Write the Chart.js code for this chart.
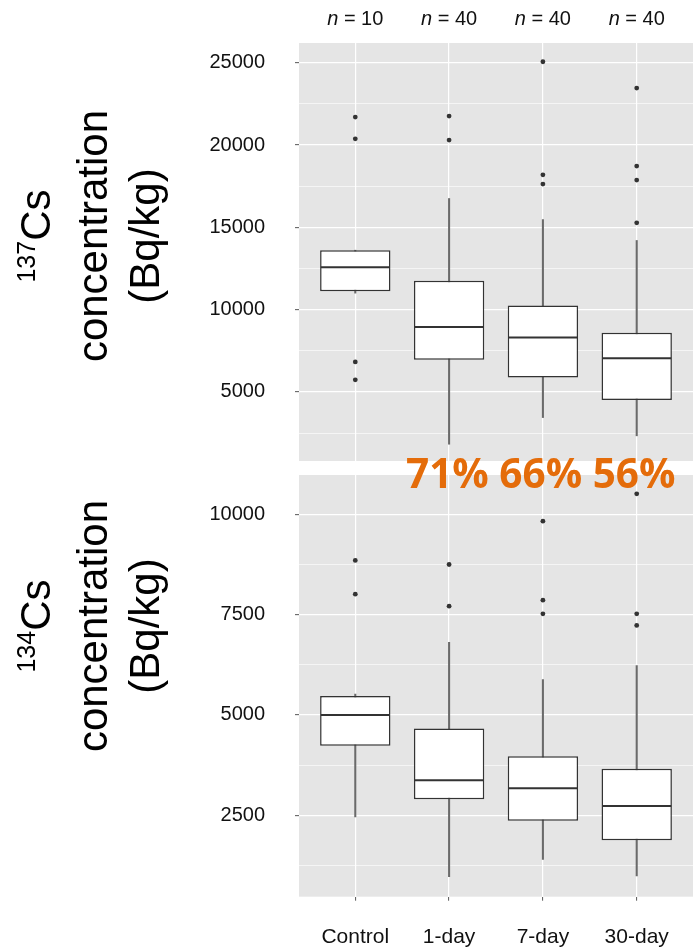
<!DOCTYPE html>
<html>
<head>
<meta charset="utf-8">
<script src="https://cdn.jsdelivr.net/npm/chart.js@4"></script>
<style>
  html, body { margin: 0; padding: 0; background: #fff; }
  #wrap { position: relative; width: 693px; height: 948px; overflow: hidden;
          font-family: "Liberation Sans", Arial, sans-serif; }
  canvas { position: absolute; left: 0; }
  #c137 { top: 0; }
  #c134 { top: 470px; }
  .ytitle { position: absolute; width: 320px; height: 156px; left: -72.2px;
            transform: rotate(-90deg); text-align: center; font-size: 42px;
            line-height: 52px; color: #000; white-space: nowrap; }
  .ytitle .iso { font-size: 25px; position: relative; top: -15px; }
  #t137 { top: 158px; }
  #t134 { top: 548px; }
  #ratios { position: absolute; left: 406px; top: 452px; font-family: "Open Sans", sans-serif;
            font-weight: 700; font-size: 40.5px; line-height: 41px; color: #E46C0A;
            white-space: pre; z-index: 5; }
</style>
</head>
<body>
<div id="wrap">
  <canvas id="c137" width="693" height="470"></canvas>
  <canvas id="c134" width="693" height="478"></canvas>
  <div class="ytitle" id="t137"><span class="iso">137</span>Cs<br>concentration<br>(Bq/kg)</div>
  <div class="ytitle" id="t134"><span class="iso">134</span>Cs<br>concentration<br>(Bq/kg)</div>
  <div id="ratios"></div>
</div>
<script>
// Groups and sample sizes
const groups = ['Control', '1-day', '7-day', '30-day'];
const sampleSizes = [10, 40, 40, 40];

// 137Cs concentration (Bq/kg): box-plot statistics per group
const cs137Low    = [11000, 1820, 3440, 2330];
const cs137Q1     = [11120, 6950, 5870, 4510];
const cs137Median = [12580, 8950, 8300, 7050];
const cs137Q3     = [13610, 11750, 10250, 8600];
const cs137High   = [13610, 16750, 15470, 14200];
const cs137Outliers = [
  [21700, 20380, 6820, 5730],
  [21760, 20300],
  [25060, 18190, 17630],
  [23460, 18720, 17870, 15270]
];
const cs137Ticks = [5000, 10000, 15000, 20000, 25000];
const cs137Range = [800, 26200];

// 134Cs concentration (Bq/kg)
const cs134Low    = [2460, 970, 1400, 990];
const cs134Q1     = [4230, 2900, 2360, 1880];
const cs134Median = [5000, 3370, 3170, 2730];
const cs134Q3     = [5470, 4660, 3970, 3660];
const cs134High   = [5520, 6810, 5880, 6230];
const cs134Outliers = [
  [8850, 8010],
  [8750, 7710],
  [9830, 7860, 7520],
  [10510, 7520, 7230]
];
const cs134Ticks = [2500, 5000, 7500, 10000];
const cs134Range = [470, 10980];

const FONT = '"Liberation Sans", Arial, sans-serif';
const PANEL_BG = '#E5E5E5';
const INK = '#333333';

// Grey panel background behind the grid
const panelBackground = {
  id: 'panelBackground',
  beforeDraw(chart) {
    const { ctx, chartArea: a } = chart;
    ctx.save();
    ctx.fillStyle = PANEL_BG;
    ctx.fillRect(a.left, a.top, a.right - a.left, a.bottom - a.top);
    ctx.restore();
  }
};

// Median line across each box, plus optional "n = .." header
const boxExtras = {
  id: 'boxExtras',
  afterDatasetsDraw(chart, args, opts) {
    const { ctx } = chart;
    const y = chart.scales.y;
    const idx = chart.data.datasets.findIndex(d => d.label === 'box');
    const meta = chart.getDatasetMeta(idx);
    ctx.save();
    ctx.strokeStyle = INK;
    ctx.lineWidth = 2;
    meta.data.forEach((bar, i) => {
      const py = y.getPixelForValue(opts.medians[i]);
      const half = bar.width / 2;
      ctx.beginPath();
      ctx.moveTo(bar.x - half + 0.75, py);
      ctx.lineTo(bar.x + half - 0.75, py);
      ctx.stroke();
    });
    ctx.restore();
  },
  afterDraw(chart, args, opts) {
    if (!opts.counts) return;
    const { ctx } = chart;
    const x = chart.scales.x;
    ctx.save();
    ctx.fillStyle = '#111';
    ctx.textBaseline = 'middle';
    ctx.textAlign = 'left';
    opts.counts.forEach((n, i) => {
      const cx = x.getPixelForValue(i + 1);
      const italic = 'italic 20px ' + FONT;
      const upright = '20px ' + FONT;
      const rest = ' = ' + n;
      ctx.font = italic; const w1 = ctx.measureText('n').width;
      ctx.font = upright; const w2 = ctx.measureText(rest).width;
      const x0 = cx - (w1 + w2) / 2;
      ctx.font = italic; ctx.fillText('n', x0, 19);
      ctx.font = upright; ctx.fillText(rest, x0 + w1, 19);
    });
    ctx.restore();
  }
};

// Scales keep only the space they are given: no extra room for label overhang
function noOverhang(sc) {
  sc.paddingTop = 0; sc.paddingBottom = 0; sc.paddingLeft = 0; sc.paddingRight = 0;
}

function makePanel(canvasId, s, cfg) {
  const outlierPoints = [];
  s.outliers.forEach((vals, i) => vals.forEach(v => outlierPoints.push({ x: i + 1, y: v })));
  // major lines at the labelled ticks, lighter lines half-way between them
  const half = (s.ticks[1] - s.ticks[0]) / 2;
  const gridValues = [];
  s.ticks.forEach(t => { if (t - half > s.range[0]) gridValues.push(t - half); gridValues.push(t); });
  if (s.ticks[s.ticks.length - 1] + half < s.range[1]) gridValues.push(s.ticks[s.ticks.length - 1] + half);
  const isMajor = v => s.ticks.includes(v);
  const tickVal = c => (c && c.tick ? c.tick.value : NaN);

  return new Chart(document.getElementById(canvasId), {
    type: 'bar',
    data: {
      datasets: [
        { type: 'scatter', label: 'outliers', data: outlierPoints, pointRadius: 2.4, hoverRadius: 2.4,
          pointBackgroundColor: INK, pointBorderWidth: 0, pointStyle: 'circle', order: 1 },
        { type: 'bar', label: 'box', data: groups.map((g, i) => ({ x: i + 1, y: [s.q1[i], s.q3[i]] })),
          backgroundColor: '#ffffff', borderColor: INK, borderWidth: 1.5, borderSkipped: false,
          grouped: false, barPercentage: 0.75, categoryPercentage: 1, order: 2 },
        { type: 'bar', label: 'whisker', data: groups.map((g, i) => ({ x: i + 1, y: [s.low[i], s.high[i]] })),
          backgroundColor: '#6a6a6a', borderWidth: 0, barThickness: 1.4, grouped: false, order: 3 }
      ]
    },
    options: {
      responsive: false,
      animation: false,
      events: [],
      layout: { padding: cfg.padding, autoPadding: false },
      plugins: {
        legend: { display: false },
        tooltip: { enabled: false },
        boxExtras: { medians: s.median, counts: cfg.counts || null }
      },
      scales: {
        x: {
          type: 'linear', min: 0.4, max: 4.6, offset: false,
          border: { display: false },
          grid: { color: '#ffffff', lineWidth: 1.2, offset: false,
                  drawTicks: cfg.showGroups, tickLength: 4, tickColor: '#555', tickWidth: 1 },
          afterBuildTicks: sc => { sc.ticks = groups.map((g, i) => ({ value: i + 1 })); },
          afterFit: sc => { sc.height = cfg.xHeight; noOverhang(sc); },
          ticks: {
            display: cfg.showGroups, autoSkip: false, maxRotation: 0, padding: 24,
            color: '#111', font: { family: FONT, size: 21 },
            callback: v => groups[v - 1]
          }
        },
        y: {
          type: 'linear', min: s.range[0], max: s.range[1], beginAtZero: false,
          border: { display: false },
          afterBuildTicks: sc => { sc.ticks = gridValues.map(v => ({ value: v })); },
          afterFit: sc => { sc.width = 299; noOverhang(sc); },
          grid: {
            color: '#ffffff',
            lineWidth: c => (isMajor(tickVal(c)) ? 1.3 : 0.6),
            tickLength: 4, tickWidth: 1,
            tickColor: c => (isMajor(tickVal(c)) ? '#555' : 'rgba(0,0,0,0)')
          },
          ticks: {
            autoSkip: false, padding: 30,
            color: '#111', font: { family: FONT, size: 20 },
            callback: v => (isMajor(v) ? String(v) : '')
          }
        }
      }
    },
    plugins: [panelBackground, boxExtras]
  });
}

makePanel('c137', {
  low: cs137Low, q1: cs137Q1, median: cs137Median, q3: cs137Q3, high: cs137High,
  outliers: cs137Outliers, ticks: cs137Ticks, range: cs137Range
}, { padding: { top: 43, bottom: 9, left: 0, right: 0 }, xHeight: 0, showGroups: false, counts: sampleSizes });

makePanel('c134', {
  low: cs134Low, q1: cs134Q1, median: cs134Median, q3: cs134Q3, high: cs134High,
  outliers: cs134Outliers, ticks: cs134Ticks, range: cs134Range
}, { padding: { top: 5, bottom: 0, left: 0, right: 0 }, xHeight: 51.3, showGroups: true });

// Median of each exposure group relative to the control median (137Cs)
document.getElementById('ratios').textContent = cs137Median.slice(1)
  .map(m => Math.round(m / cs137Median[0] * 100) + '%').join(' ');
</script>
</body>
</html>
